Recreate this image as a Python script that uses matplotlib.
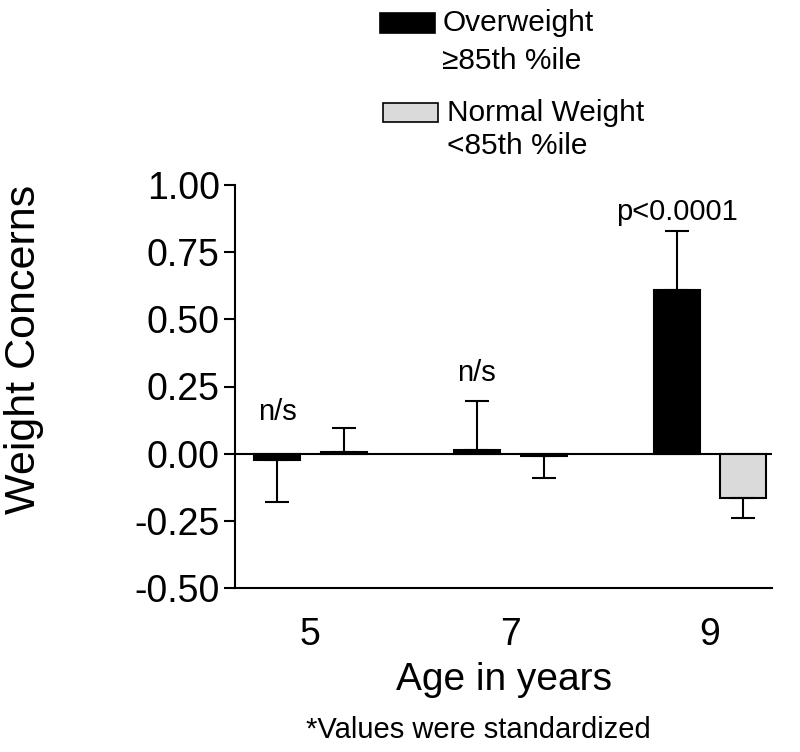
import matplotlib
matplotlib.use('Agg')
import matplotlib.pyplot as plt
from matplotlib.patches import Rectangle
import numpy as np

plt.rcParams['font.family'] = ['Liberation Sans', 'DejaVu Sans']
plt.rcParams['axes.unicode_minus'] = False

# data
ages = ['5', '7', '9']
overweight = [-0.025, 0.015, 0.61]
overweight_err = [0.155, 0.18, 0.22]
normal = [0.005, -0.01, -0.165]
normal_err = [0.09, 0.08, 0.075]
notes = ['n/s', 'n/s', 'p<0.0001']
note_y = [0.156, 0.30, 0.90]

W, H = 800, 752
fig = plt.figure(figsize=(W / 100, H / 100), dpi=100)
ax = fig.add_axes([235 / W, 1 - 588 / H, (772 - 235) / W, (588 - 185) / H])

x = np.arange(len(ages))
width = 0.23
off = 0.167


def one_sided(vals, errs):
    # error bar only on the side away from zero
    lo = [e if v < 0 else 0 for v, e in zip(vals, errs)]
    hi = [e if v >= 0 else 0 for v, e in zip(vals, errs)]
    return [lo, hi]


ax.bar(x - off, overweight, width, color='black', edgecolor='black', linewidth=1.5, zorder=2)
ax.bar(x + off, normal, width, color='#dadada', edgecolor='black', linewidth=1.5, zorder=2)
ax.errorbar(x - off, overweight, yerr=one_sided(overweight, overweight_err), fmt='none',
            ecolor='black', elinewidth=1.5, capsize=8.6, capthick=1.5, zorder=3)
ax.errorbar(x + off, normal, yerr=one_sided(normal, normal_err), fmt='none',
            ecolor='black', elinewidth=1.5, capsize=8.6, capthick=1.5, zorder=3)

ax.axhline(0, color='black', linewidth=1.5, zorder=1)

for xi, txt, yi in zip(x, notes, note_y):
    ax.text(xi - off, yi, txt, ha='center', va='center', fontsize=21)

ax.set_xlim(-0.377, 2.31)
ax.set_ylim(-0.5, 1.0)
ax.set_yticks([-0.5, -0.25, 0, 0.25, 0.5, 0.75, 1.0])
ax.set_yticklabels(['-0.50', '-0.25', '0.00', '0.25', '0.50', '0.75', '1.00'])
ax.set_xticks(x)
ax.set_xticklabels(ages)
ax.tick_params(axis='y', labelsize=27, length=8, width=1.5, pad=3)
ax.tick_params(axis='x', labelsize=27, length=0, pad=21)
for s in ['top', 'right']:
    ax.spines[s].set_visible(False)
for s in ['left', 'bottom']:
    ax.spines[s].set_linewidth(1.5)

ax.set_xlabel('Age in years', fontsize=28, labelpad=6)
fig.text(24 / W, 1 - 349 / H, 'Weight Concerns', rotation=90, fontsize=31,
         ha='center', va='center')
fig.text(478 / W, 1 - 730 / H, '*Values were standardized', fontsize=21,
         ha='center', va='center')

# legend drawn by hand
fig.patches.append(Rectangle((380 / W, 1 - 33 / H), 55 / W, 20 / H, transform=fig.transFigure,
                             facecolor='black', edgecolor='black', linewidth=1.2))
fig.patches.append(Rectangle((383 / W, 1 - 122 / H), 55 / W, 19 / H, transform=fig.transFigure,
                             facecolor='#dadada', edgecolor='black', linewidth=1.2))
fig.text(443 / W, 1 - 23 / H, 'Overweight', fontsize=21.5, va='center')
fig.text(442 / W, 1 - 61 / H, '≥85th %ile', fontsize=21.5, va='center')
fig.text(447 / W, 1 - 113 / H, 'Normal Weight', fontsize=21.5, va='center')
fig.text(447 / W, 1 - 146 / H, '<85th %ile', fontsize=21.5, va='center')

fig.savefig('out.png', dpi=100)
